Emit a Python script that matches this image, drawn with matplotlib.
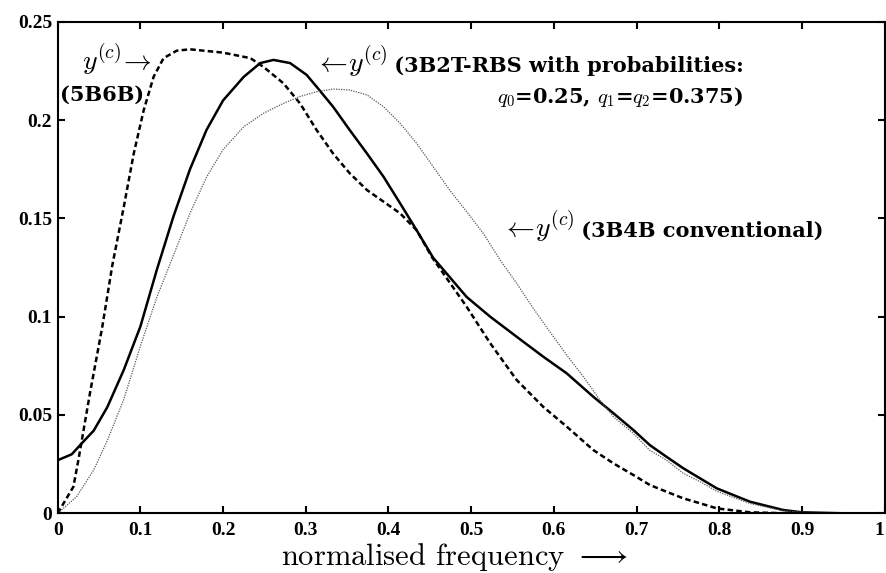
"""Spectra of three line codes against normalised frequency."""

import matplotlib
matplotlib.use("Agg")
import matplotlib.pyplot as plt

# 3B2T-RBS (q0=0.25, q1=q2=0.375) -- solid
rbs_freq = [0, 0.017, 0.03, 0.0435, 0.06, 0.08, 0.1, 0.12, 0.14, 0.16, 0.18, 0.2,
            0.225, 0.245, 0.261, 0.281, 0.301, 0.313, 0.333, 0.353, 0.374, 0.394,
            0.414, 0.434, 0.454, 0.4946, 0.523, 0.555, 0.587, 0.6155, 0.6476,
            0.672, 0.696, 0.716, 0.736, 0.7565, 0.7767, 0.797, 0.837, 0.877,
            0.9, 0.95, 1.0]
rbs_psd = [0.027, 0.030, 0.036, 0.042, 0.054, 0.073, 0.095, 0.124, 0.151, 0.175,
           0.195, 0.210, 0.222, 0.229, 0.2306, 0.229, 0.223, 0.217, 0.2068, 0.195,
           0.183, 0.1712, 0.1577, 0.144, 0.130, 0.110, 0.100, 0.0898, 0.0797,
           0.0712, 0.0593, 0.0509, 0.0424, 0.0347, 0.0288, 0.0229, 0.0178, 0.0127,
           0.0059, 0.0017, 0.0005, 0.0, 0.0]

# 5B6B -- dashed
b56_freq = [0, 0.019, 0.025, 0.039, 0.054, 0.066, 0.080, 0.092, 0.104, 0.116,
            0.128, 0.144, 0.160, 0.20, 0.233, 0.249, 0.273, 0.293, 0.313, 0.333,
            0.353, 0.374, 0.394, 0.414, 0.434, 0.453, 0.4946, 0.523, 0.555, 0.587,
            0.6155, 0.6476, 0.672, 0.696, 0.716, 0.736, 0.7565, 0.7767, 0.797,
            0.837, 0.88, 1.0]
b56_psd = [0, 0.0135, 0.027, 0.061, 0.095, 0.126, 0.156, 0.183, 0.205, 0.222,
           0.2315, 0.2353, 0.236, 0.2343, 0.2315, 0.227, 0.2187, 0.2085, 0.195,
           0.183, 0.173, 0.1644, 0.1585, 0.1526, 0.144, 0.130, 0.105, 0.0865,
           0.0678, 0.0542, 0.0441, 0.0322, 0.0254, 0.0195, 0.0144, 0.011, 0.0076,
           0.0051, 0.0025, 0.0005, 0.0, 0.0]

# 3B4B conventional -- thin dotted
b34_freq = [0, 0.023, 0.0435, 0.06, 0.08, 0.1, 0.12, 0.137, 0.16, 0.18, 0.2, 0.225,
            0.249, 0.273, 0.293, 0.313, 0.333, 0.353, 0.374, 0.394, 0.414, 0.434,
            0.454, 0.474, 0.4945, 0.5146, 0.535, 0.555, 0.575, 0.595, 0.6155,
            0.6356, 0.6557, 0.672, 0.696, 0.716, 0.736, 0.7565, 0.7767, 0.797,
            0.837, 0.877, 0.92, 1.0]
b34_psd = [0, 0.0085, 0.022, 0.037, 0.058, 0.085, 0.110, 0.128, 0.1526, 0.171,
           0.185, 0.1966, 0.2035, 0.2085, 0.212, 0.2144, 0.2158, 0.2153, 0.2128,
           0.2068, 0.1984, 0.1882, 0.1763, 0.1644, 0.1534, 0.1424, 0.1288, 0.117,
           0.1043, 0.0924, 0.0805, 0.0695, 0.0576, 0.0491, 0.0407, 0.032, 0.0271,
           0.0203, 0.0161, 0.0112, 0.005, 0.0013, 0.0, 0.0]

x_ticks = [0, 0.1, 0.2, 0.3, 0.4, 0.5, 0.6, 0.7, 0.8, 0.9, 1.0]
x_tick_labels = ["0", "0.1", "0.2", "0.3", "0.4", "0.5", "0.6", "0.7", "0.8", "0.9", "1"]
y_ticks = [0, 0.05, 0.1, 0.15, 0.2, 0.25]
y_tick_labels = ["0", "0.05", "0.1", "0.15", "0.2", "0.25"]

plt.rcParams["mathtext.fontset"] = "cm"

fig = plt.figure(figsize=(8.86, 5.73), dpi=100)
ax = fig.add_axes([0.0651, 0.1042, 0.9334, 0.8578])

ax.plot(rbs_freq, rbs_psd, color="black", lw=1.8)
ax.plot(b56_freq, b56_psd, color="black", lw=1.8, linestyle=(0, (2.2, 1.3)))
ax.plot(b34_freq, b34_psd, color="0.35", lw=0.9, linestyle=(0, (1, 1)))

ax.set_xlim(0, 1)
ax.set_ylim(0, 0.25)
ax.set_xticks(x_ticks)
ax.set_xticklabels(x_tick_labels)
ax.set_yticks(y_ticks)
ax.set_yticklabels(y_tick_labels)
ax.tick_params(direction="in", length=5, width=1.5, top=True, right=True)
ax.tick_params(axis="x", pad=6)
ax.tick_params(axis="y", pad=4)
for lbl in ax.get_xticklabels() + ax.get_yticklabels():
    lbl.set_fontfamily("Liberation Serif")
    lbl.set_fontweight("bold")
    lbl.set_fontsize(14)
ax.get_xticklabels()[-1].set_horizontalalignment("right")
for sp in ax.spines.values():
    sp.set_linewidth(1.5)

ax.set_xlabel(r"normalised frequency $\longrightarrow$", fontfamily="cmr10",
              fontsize=22, labelpad=2, x=0.48)

# curve annotations: larger math symbol, bold serif words
txt = dict(fontfamily="DejaVu Serif", fontweight="bold", fontsize=15)


def label(x, y, math, words):
    sym = ax.text(x, y, math, fontsize=20, ha="left", va="baseline")
    ax.annotate(words, xy=(1, y), xycoords=(sym, "data"), ha="left",
                va="baseline", **txt)


ax.text(0.0295, 0.2254, r"$y^{(c)}\!\rightarrow$", fontsize=20, ha="left",
        va="baseline")
ax.text(0.0027, 0.2100, "(5B6B)", ha="left", va="baseline", **txt)
label(0.311, 0.2245, r"$\leftarrow\! y^{(c)}$", " (3B2T-RBS with probabilities:")
ax.text(0.531, 0.2087, r"$q_0$=0.25, $q_1$=$q_2$=0.375)", ha="left",
        va="baseline", **txt)
label(0.537, 0.1406, r"$\leftarrow\! y^{(c)}$", " (3B4B conventional)")

fig.savefig("out.png", dpi=100)
